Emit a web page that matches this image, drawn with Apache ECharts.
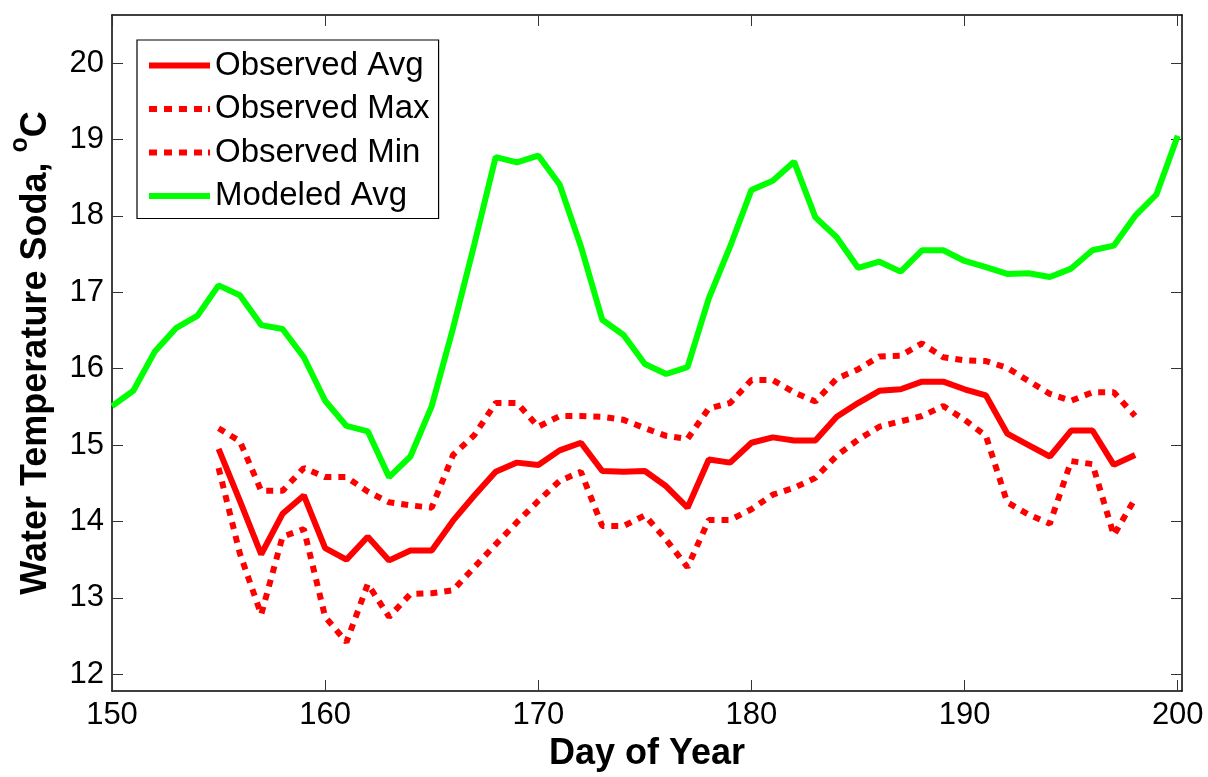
<!DOCTYPE html>
<html>
<head>
<meta charset="utf-8">
<title>Water Temperature Soda</title>
<script src="https://cdn.jsdelivr.net/npm/echarts@6/dist/echarts.min.js"></script>
<style>
  html, body { margin: 0; padding: 0; background: #fff; }
  #chart { width: 1208px; height: 777px; }
</style>
</head>
<body>
<div id="chart"></div>
<script>
// Day-of-year ranges for each record
const modeledStartDay = 150;
const observedStartDay = 155;

// Modeled daily average water temperature, days 150-200 (°C)
const modeledAvg = [
  15.51, 15.71, 16.22, 16.53, 16.69, 17.09, 16.96, 16.57, 16.52, 16.15,
  15.58, 15.25, 15.18, 14.58, 14.85, 15.51, 16.53, 17.63, 18.77, 18.70,
  18.79, 18.41, 17.60, 16.64, 16.44, 16.06, 15.93, 16.02, 16.92, 17.60,
  18.34, 18.46, 18.71, 17.98, 17.72, 17.32, 17.40, 17.27, 17.55, 17.55,
  17.41, 17.33, 17.24, 17.25, 17.20, 17.31, 17.55, 17.61, 18.00, 18.28,
  19.05
];

// Observed daily statistics, days 155-198 (°C)
const observedAvg = [
  14.95, 14.27, 13.57, 14.10, 14.34, 13.65, 13.50, 13.80, 13.49, 13.62,
  13.62, 14.01, 14.34, 14.65, 14.77, 14.74, 14.93, 15.03, 14.66, 14.65,
  14.66, 14.46, 14.18, 14.81, 14.77, 15.03, 15.10, 15.06, 15.06, 15.37,
  15.55, 15.71, 15.73, 15.83, 15.83, 15.73, 15.65, 15.15, 15.00, 14.85,
  15.19, 15.19, 14.74, 14.87
];
const observedMax = [
  15.22, 15.05, 14.40, 14.40, 14.70, 14.58, 14.58, 14.39, 14.25, 14.21,
  14.18, 14.87, 15.13, 15.55, 15.55, 15.24, 15.38, 15.38, 15.37, 15.33,
  15.22, 15.12, 15.08, 15.48, 15.55, 15.85, 15.85, 15.69, 15.57, 15.87,
  15.99, 16.16, 16.17, 16.33, 16.15, 16.11, 16.10, 16.01, 15.84, 15.67,
  15.58, 15.69, 15.69, 15.38
];
const observedMin = [
  14.70, 13.58, 12.78, 13.80, 13.90, 12.75, 12.42, 13.18, 12.75, 13.05,
  13.06, 13.10, 13.40, 13.70, 13.99, 14.27, 14.53, 14.65, 13.94, 13.94,
  14.08, 13.76, 13.40, 14.02, 14.02, 14.16, 14.35, 14.44, 14.57, 14.86,
  15.07, 15.24, 15.31, 15.38, 15.51, 15.33, 15.12, 14.25, 14.09, 13.97,
  14.79, 14.75, 13.82, 14.30
];

// Axis tick values
const xTicks = [150, 160, 170, 180, 190, 200];
const yTicks = [12, 13, 14, 15, 16, 17, 18, 19, 20];

function pairs(start, values) {
  return values.map((v, i) => [start + i, v]);
}

const FONT = 'Liberation Sans, Arial, sans-serif';
const RED = '#ff0000';
const GREEN = '#00ff00';
const DOTS = [7, 7];

// Legend swatches: a solid bar and a row of square dots
const SOLID_ICON = 'path://M0,0H61V6H0Z';
const DOTTED_ICON = 'path://M0,0H8V6H0Z M15,0H23V6H15Z M30,0H38V6H30Z M45,0H53V6H45Z M59,0H61V6H59Z';

const chart = echarts.init(document.getElementById('chart'), null, { renderer: 'canvas' });

const frameLine = { show: true, onZero: false, lineStyle: { color: '#000', width: 1.5 } };
const innerTick = (vals) => ({
  show: true, inside: true, length: 11, customValues: vals,
  lineStyle: { color: '#333', width: 1 }
});

chart.setOption({
  animation: false,
  backgroundColor: '#fff',
  grid: { left: 106, right: 26, top: 15, bottom: 82, containLabel: false },
  legend: {
    orient: 'vertical',
    left: 137,
    top: 40,
    padding: [9, 9, 6, 12],
    itemWidth: 61,
    itemHeight: 6,
    itemGap: 10.5,
    borderColor: '#000',
    borderWidth: 1.2,
    backgroundColor: '#fff',
    selectedMode: false,
    textStyle: { fontFamily: FONT, fontSize: 33, color: '#000', lineHeight: 32 },
    data: [
      { name: 'Observed Avg', icon: SOLID_ICON },
      { name: 'Observed Max', icon: DOTTED_ICON },
      { name: 'Observed Min', icon: DOTTED_ICON },
      { name: 'Modeled Avg', icon: SOLID_ICON }
    ]
  },
  xAxis: [
    {
      type: 'value', min: 150, max: 200.2, position: 'bottom',
      axisLine: frameLine,
      axisTick: innerTick(xTicks),
      axisLabel: { customValues: xTicks, fontFamily: FONT, fontSize: 31, color: '#000', margin: 9 },
      splitLine: { show: false },
      name: 'Day of Year', nameLocation: 'middle', nameGap: 45,
      nameTextStyle: { fontFamily: FONT, fontSize: 36, fontWeight: 'bold', color: '#000' }
    },
    {
      type: 'value', min: 150, max: 200.2, position: 'top',
      axisLine: frameLine,
      axisTick: innerTick(xTicks),
      axisLabel: { show: false },
      splitLine: { show: false }
    }
  ],
  yAxis: [
    {
      type: 'value', min: 11.78, max: 20.63, position: 'left',
      axisLine: frameLine,
      axisTick: innerTick(yTicks),
      axisLabel: { customValues: yTicks, fontFamily: FONT, fontSize: 31, color: '#000', margin: 8 },
      splitLine: { show: false },
      name: '{t|Water Temperature Soda, }{s|o}{t|C}',
      nameLocation: 'middle', nameGap: 58, nameRotate: 90,
      nameTextStyle: {
        color: '#000',
        rich: {
          t: { fontFamily: FONT, fontSize: 36, fontWeight: 'bold', color: '#000', lineHeight: 46, verticalAlign: 'bottom' },
          s: { fontFamily: FONT, fontSize: 25, fontWeight: 'bold', color: '#000', lineHeight: 46, verticalAlign: 'top' }
        }
      }
    },
    {
      type: 'value', min: 11.78, max: 20.63, position: 'right',
      axisLine: frameLine,
      axisTick: innerTick(yTicks),
      axisLabel: { show: false },
      splitLine: { show: false }
    }
  ],
  series: [
    {
      name: 'Observed Avg', type: 'line', data: pairs(observedStartDay, observedAvg),
      symbol: 'none', color: RED, lineStyle: { color: RED, width: 6 }, z: 3
    },
    {
      name: 'Observed Max', type: 'line', data: pairs(observedStartDay, observedMax),
      symbol: 'none', color: RED, lineStyle: { color: RED, width: 6, type: DOTS }, z: 3
    },
    {
      name: 'Observed Min', type: 'line', data: pairs(observedStartDay, observedMin),
      symbol: 'none', color: RED, lineStyle: { color: RED, width: 6, type: DOTS }, z: 3
    },
    {
      name: 'Modeled Avg', type: 'line', data: pairs(modeledStartDay, modeledAvg),
      symbol: 'none', color: GREEN, lineStyle: { color: GREEN, width: 6 }, z: 3
    }
  ]
});
</script>
</body>
</html>
